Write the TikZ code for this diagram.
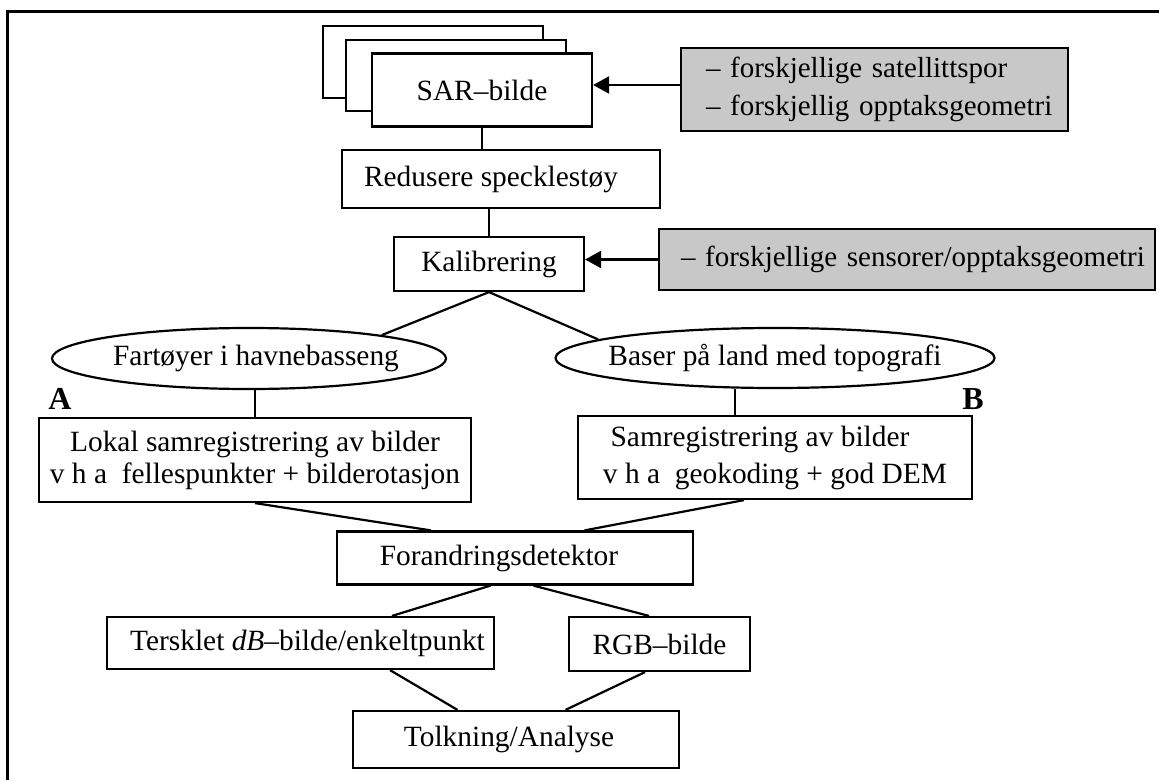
\documentclass[tikz,border=0pt]{standalone}
\usepackage{fontspec}
\setmainfont{Liberation Serif}
\usetikzlibrary{arrows.meta,shapes.geometric}
\definecolor{boxgray}{RGB}{200,200,200}
\begin{document}
\begin{tikzpicture}[x=0.5pt,y=-0.5pt,
  every node/.style={font=\fontsize{14.7}{17.6}\selectfont},
  box/.style={draw,line width=1.1pt,fill=white,inner sep=0pt,align=center},
  gbox/.style={draw,line width=1.1pt,fill=boxgray,inner sep=0pt,align=left},
  oval/.style={ellipse,draw,line width=1.1pt,fill=white,inner ysep=0pt,inner xsep=-30pt},
  conn/.style={line width=1.1pt},
  arr/.style={line width=1.1pt,-{Triangle[length=8pt,width=8.5pt]}},
  frame/.style={line width=1.3pt},
  tag/.style={font=\bfseries\fontsize{16}{19}\selectfont,inner sep=0pt}]
\useasboundingbox (0,0) rectangle (1159,780);
\draw[frame] (7.5,780) -- (7.5,11.5) -- (1159,11.5);

% stacked SAR images
\node[box,minimum width=110pt,minimum height=36pt] (sarA) at (433,62) {};
\node[box,minimum width=110pt,minimum height=35.5pt] (sarB) at (456,75.5) {};
\node[box,minimum width=110pt,minimum height=36.5pt] (sar) at (482,90) {SAR–bilde};

\node[box,minimum width=159pt,minimum height=29pt] (red) at (501,179) {Redusere specklestøy\kern10pt};
\node[box,minimum width=95pt,minimum height=27pt] (kal) at (489,264) {Kalibrering};

\node[gbox,minimum height=41.5pt,text width=193.5pt,font=\fontsize{14.5}{19}\selectfont] (g1) at (874.5,89.5)
  {\hspace*{12.5pt}– forskjellige satellittspor\\\hspace*{12.5pt}– forskjellig opptaksgeometri};
\node[gbox,minimum height=30.5pt,text width=248pt,font=\fontsize{14.5}{17.4}\selectfont] (g2) at (907,259.5)
  {\hspace*{11pt}– forskjellige sensorer/opptaksgeometri};

\node[oval,minimum width=197pt,minimum height=30.5pt] (e1) at (249,358.5) {\kern7pt Fartøyer i havnebasseng};
\node[oval,minimum width=219.5pt,minimum height=30pt] (e2) at (775,358) {Baser på land med topografi};

\node[tag] (A) at (60,399) {A};
\node[tag] (B) at (973,399) {B};

\node[box,minimum width=216pt,minimum height=42pt,font=\fontsize{14.7}{16}\selectfont] (bl) at (255,460)
  {Lokal samregistrering av bilder\\v h a\ \ fellespunkter + bilderotasjon};
\node[box,minimum width=197pt,minimum height=41.5pt,font=\fontsize{14.7}{18.5}\selectfont] (br) at (775,457.5)
  {Samregistrering av bilder\kern15pt\\v h a\ \ geokoding + god DEM};

\node[box,minimum width=178pt,minimum height=26.5pt] (fd) at (515,558) {Forandringsdetektor\kern16pt};
\node[box,minimum width=193.5pt,minimum height=26pt] (ts) at (300.5,643) {\kern7pt Tersklet \textit{dB}–bilde/enkeltpunkt};
\node[box,minimum width=90.5pt,minimum height=27pt] (rgb) at (659.5,644) {RGB–bilde};
\node[box,minimum width=163pt,minimum height=28.5pt] (tk) at (516,739.5) {Tolkning/Analyse\kern7pt};

% connectors
\draw[conn] (sar.south) -- (sar.south |- red.north);
\draw[conn] (kal.north |- red.south) -- (kal.north);
\draw[arr] ([yshift=2.25pt]g1.west) -- ([yshift=2.25pt]g1.west -| sar.east);
\draw[arr] (g2.west) -- (g2.west -| kal.east);
\draw[conn] (kal.south) -- (e1.10);
\draw[conn] (kal.south) -- (e2.174);
\draw[conn] (bl.north |- e1.south) -- (bl.north);
\draw[conn] ([xshift=-20pt]e2.south) -- ([xshift=-20pt]br.north);
\draw[conn] (bl.south) -- ([xshift=-42pt]fd.north);
\draw[conn] ([xshift=-15.5pt]br.south) -- ([xshift=34.75pt]fd.north);
\draw[conn] ([xshift=-12.25pt]fd.south) -- ([xshift=45.75pt]ts.north);
\draw[conn] ([xshift=9.25pt]fd.south) -- ([xshift=-5.25pt]rgb.north);
\draw[conn] ([xshift=44.75pt]ts.south) -- ([xshift=-29.25pt]tk.north);
\draw[conn] ([xshift=-7.25pt]rgb.south) -- ([xshift=24.75pt]tk.north);
\end{tikzpicture}
\end{document}
